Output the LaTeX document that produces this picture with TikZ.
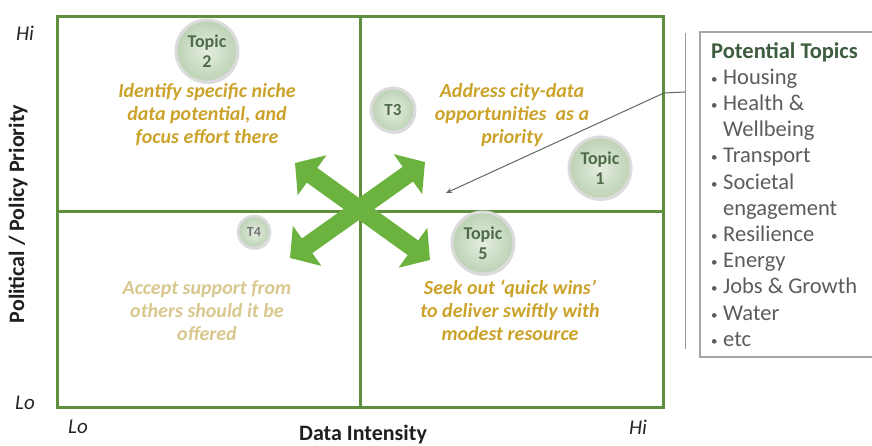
\documentclass[tikz,border=0pt]{standalone}
\usepackage{fontspec}
\setmainfont{Carlito}
\usetikzlibrary{arrows.meta,shadows}
\definecolor{gridg}{HTML}{5E8F3C}
\definecolor{arrg}{HTML}{6CB23E}
\definecolor{goldt}{HTML}{CCA32A}
\definecolor{paleg}{HTML}{D8C88E}
\definecolor{topict}{HTML}{4F6B4A}
\definecolor{listt}{HTML}{5C5C5C}
\definecolor{headt}{HTML}{3E5C3E}
\definecolor{circin}{HTML}{E4EEE0}
\definecolor{circout}{HTML}{BCD2B4}
\newcommand\tbul{\makebox[12pt][l]{\raisebox{1pt}{\fontsize{13}{13}\selectfont\textbullet}}}
\newcommand\tind{\hspace*{12pt}}
\tikzset{
  gridline/.style={draw=gridg, line width=3pt},
  bigarrow/.style={draw=arrg, line width=18pt, {Triangle[length=21pt,width=48pt]}-{Triangle[length=21pt,width=48pt]}},
  quadtext/.style={font=\fontsize{20}{23}\selectfont\bfseries\itshape, text=goldt, align=center, inner sep=0pt},
  topicc/.style={circle, inner sep=0pt, shading=radial, inner color=circin, outer color=circout,
     draw=black!14, line width=3pt, drop shadow={opacity=.25, shadow xshift=1pt, shadow yshift=-2pt},
     text=topict, align=center},
  bigtopic/.style={topicc, minimum size=62pt, font=\fontsize{18}{20}\selectfont\bfseries},
  smalltopic/.style={topicc, minimum size=44pt, font=\fontsize{17}{20}\selectfont\bfseries},
  tinytopic/.style={topicc, minimum size=32pt, line width=2.5pt, font=\fontsize{14}{16}\selectfont\bfseries, text=black!55},
  axlab/.style={font=\fontsize{21}{21}\selectfont\itshape, text=black!85, inner sep=0pt},
  axtitle/.style={font=\fontsize{22}{22}\selectfont\bfseries, text=black!88, inner sep=0pt},
  leader/.style={draw=black!60, line width=1pt},
  bracket/.style={draw=black!40, line width=1pt},
  listbox/.style={draw=black!35, line width=1.5pt},
  listtext/.style={font=\fontsize{22.5}{26.2}\selectfont, text=listt, align=left, inner sep=0pt}
}
\begin{document}
\begin{tikzpicture}[x=1pt,y=-1pt]
\useasboundingbox (0,0) rectangle (872,446);
\clip (0,0) rectangle (872,446);
\fill[white] (0,0) rectangle (872,446);

% grid
\coordinate (gTL) at (57,17);
\coordinate (gBR) at (663,407);
\coordinate (mT) at (360,17);
\coordinate (mB) at (360,407);
\coordinate (mL) at (57,212);
\coordinate (mR) at (663,212);
\draw[gridline] (gTL) rectangle (gBR);
\draw[gridline] (mT) -- (mB);
\draw[gridline] (mL) -- (mR);

% quadrant texts
\node[quadtext] (q1) at (207,115) {Identify specific niche\\data potential, and\\focus effort there};
\node[quadtext] (q2) at (512,115) {Address city-data\\opportunities \ as a\\priority};
\node[quadtext, text=paleg] (q3) at (207,311) {Accept support from\\others should it be\\offered};
\node[quadtext] (q4) at (510,310) {Seek out `quick wins'\\to deliver swiftly with\\modest resource};

% big X arrows
\coordinate (aUL) at (295,163);
\coordinate (aLR) at (430,260);
\coordinate (aUR) at (425,162);
\coordinate (aLL) at (290,258);
\draw[bigarrow] (aUL) -- (aLR);
\draw[bigarrow] (aLL) -- (aUR);

% leader line and bracket
\coordinate (brtop) at (685,33);
\coordinate (brbot) at (685,349);
\coordinate (brk) at (685,92);
\coordinate (bend) at (664,93);
\coordinate (ptr) at (446,193);
\draw[bracket] (brtop) -- (brbot);
\draw[leader, -{Stealth[length=6pt,width=5pt]}] (brk) -- (bend) -- (ptr);

% topic circles
\node[bigtopic] (t2) at (207,51) {Topic\\2};
\node[smalltopic] (t3) at (393,110) {T3};
\node[bigtopic] (t1) at (600,168) {Topic\\1};
\node[tinytopic] (t4) at (254,232) {T4};
\node[bigtopic] (t5) at (483,243) {Topic\\5};

% axis labels
\node[axlab] (yhi) at (25,33) {Hi};
\node[axlab] (ylo) at (25,403) {Lo};
\node[axlab] (xlo) at (78,427) {Lo};
\node[axlab] (xhi) at (638,427) {Hi};
\node[axtitle] (xlab) at (363,435) {Data Intensity};
\node[axtitle, rotate=90] (ylab) at (18,214) {Political / Policy Priority};

% topics list
\coordinate (lbTL) at (700,32);
\coordinate (lbBR) at (885,357);
\draw[listbox] (lbTL) rectangle (lbBR);
\node[listtext, anchor=north west] (topics) at (711,42) {%
{\color{headt}\bfseries Potential Topics}\\
\tbul Housing\\
\tbul Health \&\\
\tind Wellbeing\\
\tbul Transport\\
\tbul Societal\\
\tind engagement\\
\tbul Resilience\\
\tbul Energy\\
\tbul Jobs \& Growth\\
\tbul Water\\
\tbul etc};
\end{tikzpicture}
\end{document}
